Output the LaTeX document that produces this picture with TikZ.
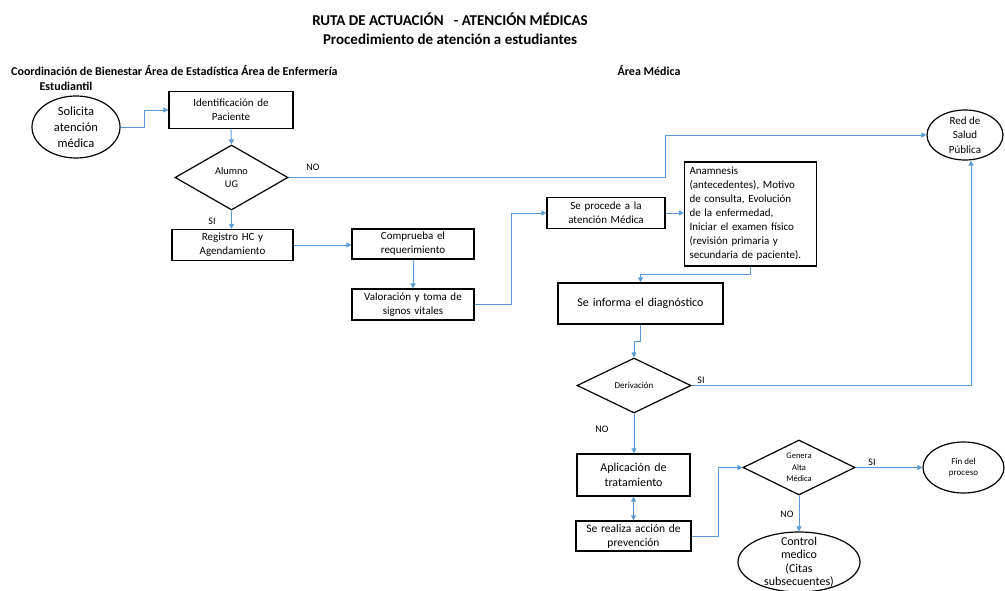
\documentclass[tikz,border=0pt]{standalone}
\usepackage{fontspec}
\setmainfont{Carlito}
\usetikzlibrary{arrows.meta,shapes.geometric}
\definecolor{flow}{HTML}{5B9BD5}

\begin{document}
\begin{tikzpicture}[x=1pt,y=-1pt,
  box/.style={draw, line width=1.3pt, align=center, inner xsep=3pt, inner ysep=0pt,
    font=\fontsize{11}{14}\selectfont},
  bigbox/.style={box, font=\fontsize{12}{15}\selectfont},
  ell/.style={ellipse, draw, line width=1.2pt, inner sep=0pt},
  dia/.style={diamond, draw, line width=1.2pt, inner sep=0pt},
  inlbl/.style={align=center, inner sep=0pt},
  flowline/.style={draw=flow, line width=0.9pt},
  arr/.style={flowline, -{Triangle[length=5pt,width=5pt]}},
  darr/.style={flowline, {Triangle[length=5pt,width=5pt]}-{Triangle[length=5pt,width=5pt]}},
  tag/.style={font=\fontsize{10}{12}\selectfont, inner sep=0pt},
  head/.style={font=\bfseries\fontsize{12}{14}\selectfont, inner sep=0pt},
  titletext/.style={font=\bfseries\fontsize{15}{18}\selectfont, inner sep=0pt}
]
\useasboundingbox (0,0) rectangle (1005,591);

% titles and column headers
\node[titletext] (t1) at (450,19) {RUTA DE ACTUACIÓN \ \ - ATENCIÓN MÉDICAS};
\node[titletext] (t2) at (450,39) {Procedimiento de atención a estudiantes};
\node[head, anchor=west] (h1) at (11,71) {Coordinación de Bienestar Área de Estadística Área de Enfermería};
\node[head] (h2) at (66,86) {Estudiantil};
\node[head] (h3) at (649,71) {Área Médica};

% start
\node[ell, minimum width=88pt, minimum height=62pt,
  label={[inlbl, font=\fontsize{12.5}{16}\selectfont]center:Solicita\\atención\\médica}] (sol) at (76,127) {};

% process boxes
\node[box, minimum width=124pt, minimum height=37pt, text width=116pt] (ident) at (231,110) {Identificación de\\Paciente};
\node[dia, minimum width=113pt, minimum height=65pt,
  label={[inlbl, font=\fontsize{10.3}{13}\selectfont]center:Alumno\\UG}] (alumno) at (231.5,177.5) {};
\node[box, minimum width=121pt, minimum height=31pt, text width=113pt] (reg) at (232.5,245) {Registro HC y\\Agendamiento};
\node[box, minimum width=122pt, minimum height=30pt, text width=114pt] (comp) at (413,244) {Comprueba el\\requerimiento};
\node[box, minimum width=122pt, minimum height=31pt, text width=114pt] (val) at (413,304.5) {Valoración y toma de\\signos vitales};
\node[box, minimum width=118pt, minimum height=31pt, text width=110pt] (proc) at (606,213) {Se procede a la\\atención Médica};
\node[box, align=left, minimum width=132pt, minimum height=104pt, text width=122pt, inner xsep=5pt] (anam) at (750.5,214)
  {Anamnesis\\(antecedentes), Motivo\\de consulta, Evolución\\de la enfermedad,\\Iniciar el examen físico\\(revisión primaria y\\secundaria de paciente).};
\node[bigbox, minimum width=165pt, minimum height=41pt, text width=157pt] (info) at (640.5,303.5) {Se informa el diagnóstico};
\node[dia, minimum width=114pt, minimum height=55pt,
  label={[inlbl, font=\fontsize{9}{12}\selectfont]center:Derivación}] (deriv) at (634,385.5) {};
\node[bigbox, minimum width=113pt, minimum height=42pt, text width=105pt] (apl) at (633.5,475) {Aplicación de\\tratamiento};
\node[box, minimum width=113pt, minimum height=30pt, text width=109pt, font=\fontsize{11.5}{14}\selectfont] (prev) at (633.5,536) {Se realiza acción de\\prevención};
\node[dia, minimum width=112pt, minimum height=55pt,
  label={[inlbl, font=\fontsize{8.5}{11.7}\selectfont]center:Genera\\Alta\\Médica}] (gen) at (799,467.5) {};

% end points
\node[ell, minimum width=76pt, minimum height=50pt,
  label={[inlbl, font=\fontsize{11}{14.5}\selectfont]center:Red de\\Salud\\Pública}] (red) at (965,135) {};
\node[ell, minimum width=81pt, minimum height=51pt,
  label={[inlbl, font=\fontsize{9}{11.7}\selectfont]center:Fin del\\proceso}] (fin) at (963.5,467.5) {};
\node[ell, minimum width=122pt, minimum height=60pt,
  label={[inlbl, font=\fontsize{12}{13.5}\selectfont]center:Control\\medico\\(Citas\\subsecuentes)}] (ctrl) at (799,562) {};

% connectors
\draw[arr] (sol.east) -- ++(24,0) |- (ident.west);
\draw[arr] (ident.south) -- (alumno.north);
\draw[arr] (alumno.east) -- ++(376.5,0) |- (red.west);
\draw[arr] (alumno.south) -- (reg.north -| alumno.south);
\draw[arr] (reg.east) -- (comp.west |- reg.east);
\draw[arr] (comp.south) -- (val.north);
\draw[arr] (val.east) -- ++(37,0) |- (proc.west);
\draw[arr] (proc.east) -- (anam.west |- proc.east);
\draw[arr] (anam.south) -- ++(0,8) -| (info.north);
\draw[arr] (info.south) -- ++(0,17) -| (deriv.north);
\draw[arr] (deriv.east) -| ([xshift=6pt]red.south);
\draw[arr] (deriv.south) -- (apl.north -| deriv.south);
\draw[darr] (apl.south) -- (prev.north);
\draw[arr] (prev.east) -- ++(27,0) |- (gen.west);
\draw[arr] (gen.east) -- (fin.west);
\draw[arr] (gen.south) -- (ctrl.north);

% branch labels
\node[tag] (no1) at (313,167) {NO};
\node[tag] (si1) at (212,221) {SI};
\node[tag] (si2) at (701,380) {SI};
\node[tag] (no2) at (602,429) {NO};
\node[tag] (si3) at (872,462) {SI};
\node[tag] (no3) at (787,514) {NO};
\end{tikzpicture}
\end{document}
